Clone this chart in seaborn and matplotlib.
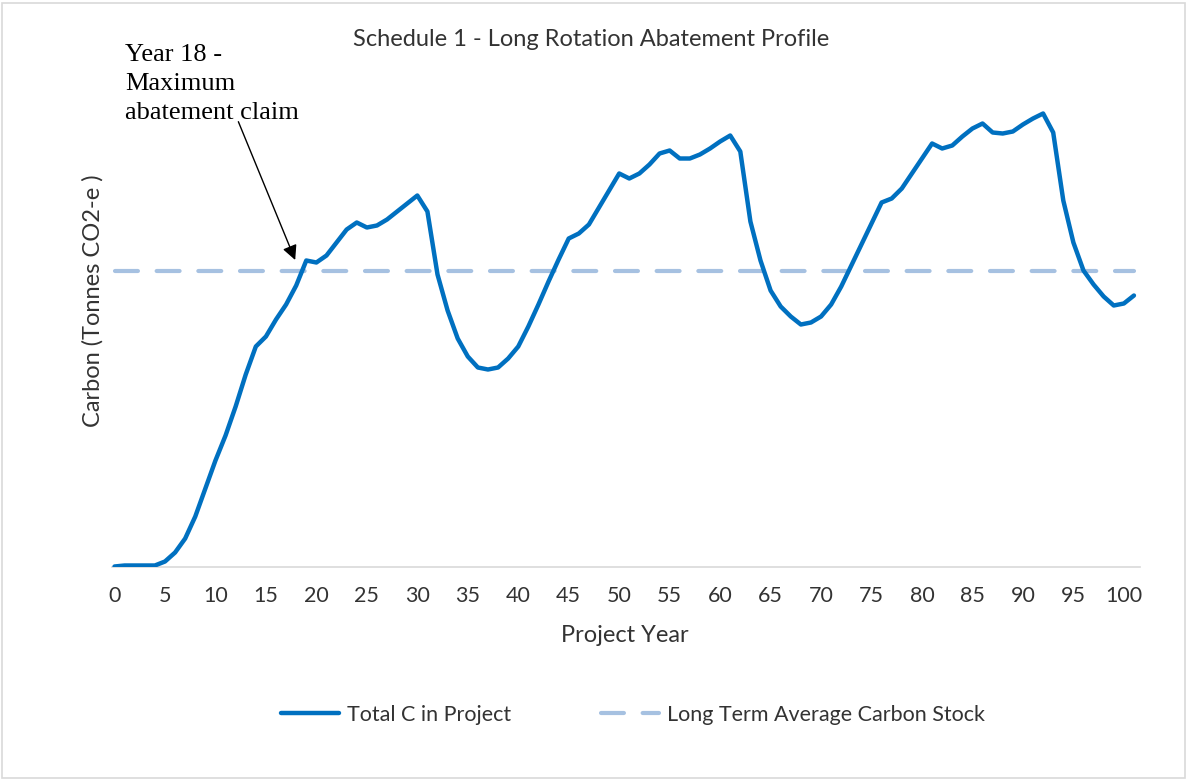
import matplotlib
matplotlib.use("Agg")
import matplotlib.pyplot as plt
import seaborn as sns
import pandas as pd
from matplotlib.patches import Rectangle

# values (arbitrary tonnes scale, no y ticks in the original)
years = list(range(0, 102))
total_c = [
    0, 1, 1, 1, 1, 5, 14, 28, 50, 78,            # 0-9
    106, 131, 160, 192, 220, 230, 247, 262, 281, 306,   # 10-19
    304, 311, 324, 337, 344, 339, 341, 347, 355, 363,   # 20-29
    371, 355, 292, 256, 228, 210, 199, 197, 199, 208,   # 30-39
    220, 240, 262, 285, 307, 328, 333, 342, 359, 376,   # 40-49
    393, 388, 393, 402, 413, 416, 408, 408, 412, 418,   # 50-59
    425, 431, 415, 345, 306, 276, 260, 250, 242, 244,   # 60-69
    250, 262, 280, 301, 322, 343, 364, 368, 378, 393,   # 70-79
    408, 423, 418, 421, 430, 438, 443, 434, 433, 435,   # 80-89
    442, 448, 453, 434, 366, 324, 296, 282, 270, 261,   # 90-99
    263, 271,                                           # 100-101
]
long_term_avg = 296

title = "Schedule 1 - Long Rotation Abatement Profile"
xlabel = "Project Year"
ylabel = "Carbon (Tonnes CO2-e )"
series_names = ["Total C in Project", "Long Term Average Carbon Stock"]
note = "Year 18 -\nMaximum\nabatement claim"

df = pd.DataFrame({"year": years, "total": total_c})
df["avg"] = long_term_avg

sns.set_style("white")
plt.rcParams["font.family"] = ["Lato", "DejaVu Sans"]

W, H = 1187, 781
fig = plt.figure(figsize=(W / 100, H / 100), dpi=100)
ax = fig.add_axes([112 / W, (H - 566.5) / H, (1140 - 112) / W, 480 / H])

blue = "#0070C0"
light = "#A6C1E1"
txt = "#333333"

sns.lineplot(data=df, x="year", y="avg", ax=ax, color=light, lw=3,
             dashes=False, label=series_names[1], zorder=2)
ax.lines[-1].set_dashes((5.5, 4.5))
ax.lines[-1].set_dash_capstyle("round")
sns.lineplot(data=df, x="year", y="total", ax=ax, color=blue, lw=3.2,
             label=series_names[0], zorder=3)

ax.set_xlim(-0.25, 101.6)
ax.set_ylim(0, 480)
ax.set_xticks(range(0, 101, 5))
ax.set_yticks([])
ax.tick_params(axis="x", length=0, pad=14, labelsize=15.5, colors=txt)
for s in ["left", "right", "top"]:
    ax.spines[s].set_visible(False)
ax.spines["bottom"].set_color("#d9d9d9")
ax.spines["bottom"].set_linewidth(1.2)
ax.set_xlabel("")
ax.set_ylabel("")

fig.text(591 / W, (H - 40) / H, title, ha="center", va="center",
         fontsize=17, color=txt)
fig.text(625 / W, (H - 636) / H, xlabel, ha="center", va="center",
         fontsize=17, color=txt)
fig.text(93 / W, (H - 301) / H, ylabel, ha="center", va="center",
         rotation=90, fontsize=17, color=txt)

# annotation
fig.text(125 / W, (H - 119) / H, note, ha="left", va="baseline",
         family=["Liberation Serif", "DejaVu Serif"], fontsize=19,
         linespacing=1.4, color="black")
ax.annotate("", xy=(17.9, 306.5), xytext=(12.27, 444.8),
            arrowprops=dict(arrowstyle="-|>", color="black", lw=1,
                            mutation_scale=22, shrinkA=0, shrinkB=0),
            annotation_clip=False)

handles, labels = ax.get_legend_handles_labels()
order = [labels.index(n) for n in series_names]
ax.legend([handles[i] for i in order], [labels[i] for i in order],
          loc="center", bbox_to_anchor=(633 / W, (H - 715) / H),
          bbox_transform=fig.transFigure, ncol=2, frameon=False,
          fontsize=15.5, handlelength=2.7, handletextpad=0.35,
          columnspacing=4.2, labelcolor=txt)

fig.add_artist(Rectangle((2 / W, 3 / H), (1183 / W), (775 / H),
                         transform=fig.transFigure, fill=False,
                         edgecolor="#d9d9d9", lw=1.2))

fig.savefig("out.png", dpi=100)
